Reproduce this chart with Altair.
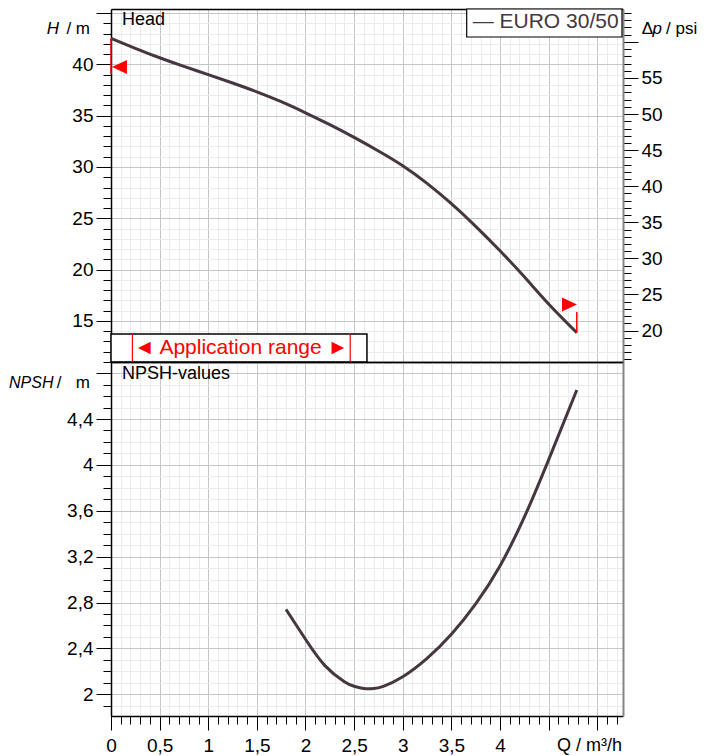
import altair as alt
import pandas as pd

FONT = "Liberation Sans"
LINE = "#46363f"
RED = "#ff0000"
GRID_MAJOR = "#c6c6c6"
GRID_MINOR = "#ebebeb"

# ---- data ----
Q_HEAD = [0.0, 0.25, 0.5, 0.75, 1.0, 1.25, 1.5, 1.75, 2.0, 2.25, 2.5, 2.75,
          3.0, 3.25, 3.5, 3.75, 4.0, 4.25, 4.5, 4.79]
H_HEAD = [42.53, 41.56, 40.64, 39.80, 39.00, 38.18, 37.32, 36.36, 35.28, 34.12, 32.88, 31.56,
          30.12, 28.40, 26.42, 24.22, 21.84, 19.30, 16.66, 13.86]

Q_NPSH = [1.8, 2.0, 2.2, 2.4, 2.5, 2.6, 2.7, 2.8, 3.0, 3.25, 3.5, 3.75, 4.0, 4.25, 4.5, 4.79]
NPSH = [2.74, 2.48, 2.25, 2.11, 2.07, 2.05, 2.05, 2.07, 2.154, 2.314, 2.524, 2.789, 3.119,
        3.544, 4.044, 4.653]

SERIES = "EURO 30/50"
APP_LABEL = "◄ Application range ►"
APP_BOX_Q = [0.0, 2.632]
APP_BOX_H = [11.0, 13.73]
APP_RANGE_Q = [0.22, 2.46]
APP_LABEL_POS = [1.338, 12.37]

LIMIT_Q = [0.0, 4.79]
LIMIT_H0 = [42.53, 13.86]
LIMIT_H1 = [39.05, 15.88]
START_TRI = [0.087, 39.74]
END_TRI = [4.715, 16.61]

Q_DOMAIN = [0.0, 5.265]
H_DOMAIN = [11.0, 45.39]
M_PER_PSI = 0.70307
NPSH_DOMAIN = [1.811, 4.897]

X_TICKS = [round(i * 0.1, 1) for i in range(0, 53)]
H_TICKS = list(range(11, 46))
PSI_TICKS = list(range(16, 65))
NPSH_TICKS = [round(1.9 + 0.1 * i, 1) for i in range(30)]

W, H_TOP, H_BOT = 512, 353, 354
TICK_FS = 19
TITLE_FS = 17


def cond(test, a, b):
    return {"condition": {"test": test, "value": a}, "value": b}


MAJ_X = "round(datum.value*10) % 5 === 0"
LAB_X = MAJ_X + " && datum.value < 4.05"
MAJ_H = "datum.value % 5 === 0"
LAB_H = MAJ_H + " && datum.value >= 15 && datum.value <= 40"
LAB_P = MAJ_H + " && datum.value >= 20 && datum.value <= 55"
MAJ_N = "(round(datum.value*10) - 20) % 4 === 0"
LAB_N = MAJ_N + " && datum.value < 4.45"
COMMA = "replace(format(datum.value, '.1~f'), '.', ',')"

xs = alt.Scale(domain=Q_DOMAIN, nice=False, zero=False)
hs = alt.Scale(domain=H_DOMAIN, nice=False, zero=False)
ps = alt.Scale(domain=[H_DOMAIN[0] / M_PER_PSI, H_DOMAIN[1] / M_PER_PSI], nice=False, zero=False)
ns = alt.Scale(domain=NPSH_DOMAIN, nice=False, zero=False)


def lab(test):
    return dict(labelFont=FONT, labelFontSize=cond(test, TICK_FS, 0), labelColor="black",
                labelOverlap=False)


x_top_axis = alt.Axis(orient="top", values=X_TICKS, grid=True,
                      gridColor=cond(MAJ_X, GRID_MAJOR, GRID_MINOR), gridWidth=1,
                      ticks=False, labels=False, domain=True, domainColor="black",
                      domainWidth=1.5, title=None)
h_axis = alt.Axis(orient="left", values=H_TICKS, grid=True,
                  gridColor=cond(MAJ_H, GRID_MAJOR, GRID_MINOR), gridWidth=1,
                  tickSize=cond(MAJ_H, 15, 8), tickColor="black", tickWidth=1,
                  labelExpr=LAB_H + " ? format(datum.value, 'd') : ''",
                  labelPadding=3, domainColor="black", domainWidth=1.5, title=None, **lab(LAB_H))
psi_axis = alt.Axis(orient="right", values=PSI_TICKS, grid=False,
                    tickSize=cond(MAJ_H, 15, 8), tickColor="black", tickWidth=1,
                    labelExpr=LAB_P + " ? format(datum.value, 'd') : ''",
                    labelPadding=3, domain=True, domainColor="#858585", domainWidth=2,
                    title=None, **lab(LAB_P))
x_bot_axis = alt.Axis(orient="bottom", values=X_TICKS, grid=True,
                      gridColor=cond(MAJ_X, GRID_MAJOR, GRID_MINOR), gridWidth=1,
                      tickSize=cond(MAJ_X, 14, 8), tickColor="black", tickWidth=1,
                      labelExpr=LAB_X + " ? " + COMMA + " : ''",
                      labelPadding=6, labelFlush=False, domainColor="black", domainWidth=1.5,
                      title=None, **lab(LAB_X))
n_axis = alt.Axis(orient="left", values=NPSH_TICKS, grid=True,
                  gridColor=cond(MAJ_N, GRID_MAJOR, GRID_MINOR), gridWidth=1,
                  tickSize=cond(MAJ_N, 15, 8), tickColor="black", tickWidth=1,
                  labelExpr=LAB_N + " ? " + COMMA + " : ''",
                  labelPadding=3, domainColor="black", domainWidth=1.5, title=None, **lab(LAB_N))


def txt(s, x, y, size=18, align="left", style="normal", color="black"):
    return alt.Chart(pd.DataFrame({"t": [s]})).mark_text(
        text=s, font=FONT, fontSize=size, align=align, baseline="middle",
        fontStyle=style, color=color
    ).encode(x=alt.value(x), y=alt.value(y))


def XH(field):
    return alt.X(field, scale=xs, axis=x_top_axis)


def YH(field):
    return alt.Y(field, scale=hs, axis=h_axis)


# ---- top panel (head) ----
head_df = pd.DataFrame({"q": Q_HEAD, "h": H_HEAD})
head_line = alt.Chart(head_df).mark_line(color=LINE, strokeWidth=3, interpolate="natural").encode(
    x=XH("q:Q"), y=YH("h:Q"))

app_box = alt.Chart(pd.DataFrame({"q0": [APP_BOX_Q[0]], "q1": [APP_BOX_Q[1]],
                                  "h0": [APP_BOX_H[0]], "h1": [APP_BOX_H[1]]})).mark_rect(
    fill="white", stroke="black", strokeWidth=1.5).encode(
    x=XH("q0:Q"), x2="q1", y=YH("h0:Q"), y2="h1")

app_lines = alt.Chart(pd.DataFrame({"q": APP_RANGE_Q, "h0": [APP_BOX_H[0]] * 2,
                                    "h1": [APP_BOX_H[1]] * 2})).mark_rule(
    color=RED, strokeWidth=1.2).encode(x=XH("q:Q"), y=YH("h0:Q"), y2="h1")

app_text = alt.Chart(pd.DataFrame({"q": [APP_LABEL_POS[0]], "h": [APP_LABEL_POS[1]],
                                   "t": [APP_LABEL]})).mark_text(
    font=FONT, fontSize=21, color=RED, align="center", baseline="middle").encode(
    x=XH("q:Q"), y=YH("h:Q"), text="t:N")

limit_rules = alt.Chart(pd.DataFrame({"q": LIMIT_Q, "h0": LIMIT_H0, "h1": LIMIT_H1})).mark_rule(
    color=RED, strokeWidth=1.5).encode(x=XH("q:Q"), y=YH("h0:Q"), y2="h1")

tri_start = alt.Chart(pd.DataFrame({"q": [START_TRI[0]], "h": [START_TRI[1]]})).mark_point(
    shape="M-1,0L1,-0.93L1,0.93Z", filled=True, color=RED, opacity=1, size=225).encode(
    x=XH("q:Q"), y=YH("h:Q"))
tri_end = alt.Chart(pd.DataFrame({"q": [END_TRI[0]], "h": [END_TRI[1]]})).mark_point(
    shape="M1,0L-1,-0.93L-1,0.93Z", filled=True, color=RED, opacity=1, size=225).encode(
    x=XH("q:Q"), y=YH("h:Q"))

legend_box = alt.Chart(pd.DataFrame({"t": [SERIES]})).mark_rect(
    fill="white", stroke="black", strokeWidth=1.2).encode(
    x=alt.value(355.7), x2=alt.value(511), y=alt.value(0), y2=alt.value(28))
legend_text = txt("— " + SERIES, 361.7, 13, size=21, color=LINE)

top_inner = alt.layer(
    head_line, app_box, app_lines, app_text, limit_rules, tri_start, tri_end,
    legend_box, legend_text,
    txt("Head", 11, 10.5),
    txt("H", -52, 20, size=TITLE_FS, style="italic", align="right"),
    txt("/ m", -21, 20, size=TITLE_FS, align="right"),
    txt("Δ", 530.7, 20, size=TITLE_FS),
    txt("p", 541.5, 20, size=TITLE_FS, style="italic"),
    txt("/ psi", 555, 20, size=TITLE_FS),
)

psi_layer = alt.Chart(pd.DataFrame({"q": [0.0, 5.0], "psi": [20.0, 55.0]})).mark_point(opacity=0).encode(
    x=alt.X("q:Q", scale=xs, axis=alt.Axis(orient="bottom", domain=True, domainColor="black",
                                              domainWidth=1.5, ticks=False, labels=False,
                                              grid=False, title=None)),
    y=alt.Y("psi:Q", scale=ps, axis=psi_axis),
)

top = alt.layer(top_inner, psi_layer).resolve_scale(x="independent", y="independent").properties(
    width=W, height=H_TOP)

# ---- bottom panel (NPSH) ----
npsh_df = pd.DataFrame({"q": Q_NPSH, "n": NPSH})
npsh_line = alt.Chart(npsh_df).mark_line(color=LINE, strokeWidth=3, interpolate="natural").encode(
    x=alt.X("q:Q", scale=xs, axis=x_bot_axis),
    y=alt.Y("n:Q", scale=ns, axis=n_axis),
)

bot_inner = alt.layer(
    npsh_line,
    txt("NPSH-values", 11, 12),
    txt("NPSH", -57.5, 21, size=TITLE_FS - 1, style="italic", align="right"),
    txt("/", -54.3, 21, size=TITLE_FS),
    txt("m", -21, 21, size=TITLE_FS, align="right"),
    txt("Q / m³/h", 511, 384, align="right"),
)

frame_layer = alt.Chart(pd.DataFrame({"q": [0.0, 5.0], "n": [2.0, 4.0]})).mark_point(opacity=0).encode(
    x=alt.X("q:Q", scale=xs, axis=alt.Axis(orient="top", domain=True, domainColor="black",
                                              domainWidth=1.5, ticks=False, labels=False,
                                              grid=False, title=None)),
    y=alt.Y("n:Q", scale=ns, axis=alt.Axis(orient="right", domain=True, domainColor="#858585",
                                              domainWidth=2, ticks=False, labels=False,
                                              grid=False, title=None)),
)

bottom = alt.layer(bot_inner, frame_layer).resolve_scale(x="independent", y="independent").properties(
    width=W, height=H_BOT)

chart = alt.vconcat(top, bottom, spacing=0, bounds="flush").properties(
    padding={"left": 1, "top": 0, "right": 0, "bottom": 0},
    background="white",
).configure_view(stroke=None)

chart.save("out.html", embed_options={"renderer": "svg", "actions": False})
